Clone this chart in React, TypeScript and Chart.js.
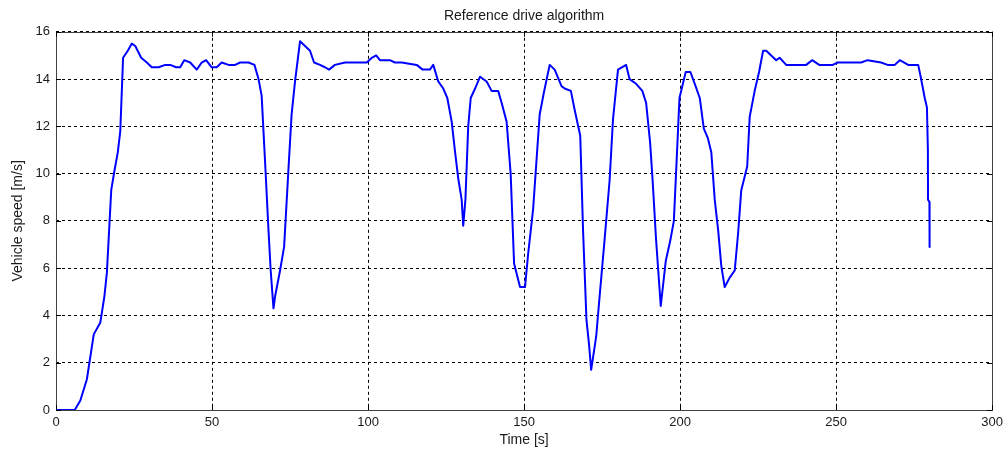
import React, { useEffect, useRef } from "react";
import { Chart, registerables } from "chart.js";

Chart.register(...registerables);

// Sample times [s]
const timeS: number[] = [
  0, 6, 7.8, 9.9, 12.1, 14.2, 15.5, 16.3, 17.1, 17.7, 18.7, 19.8, 20.6, 21.5, 23, 24.3, 25.4, 27.3, 29.1, 30.7,
  32.9, 35, 36.6, 38.5, 39.8, 41.1, 43, 45.1, 46.7, 48.1, 49.9, 51.5, 53.1, 55.3, 57.4, 59, 61.7, 63.6, 64.9, 65.9,
  67, 68.1, 68.8, 69.7, 70.2, 71.8, 73.1, 74.5, 75.5, 76.6, 78.2, 79.8, 81.4, 82.7, 84.6, 86.2, 87.5, 89.4, 92.6, 94.8,
  99.6, 101.2, 102.6, 103.8, 107, 108.6, 110.8, 115.6, 117.5, 119.8, 120.9, 122.5, 124.1, 125.4, 126.8, 127.9, 128.9, 130, 130.5, 131.2,
  132.1, 132.9, 134.3, 135.9, 138, 139.6, 141.7, 142.8, 144.4, 145.7, 146.8, 148.7, 150.3, 151.3, 152.9, 155, 156.3, 158.2, 159.8, 162,
  163, 165, 166.2, 168, 168.9, 170, 170.8, 171.5, 173.1, 174.2, 175.6, 177.4, 178.5, 180.1, 182.7, 183.8, 185.9, 187.9, 189.1, 190.4,
  191.2, 192.3, 193.8, 195.4, 196.9, 198, 198.8, 199.8, 201.8, 203.3, 204.7, 206.3, 207.6, 208.9, 210, 211.1, 212.2, 213.2, 214.3, 215.9,
  217.5, 218.6, 219.6, 221.5, 222.3, 223.9, 225.3, 226.6, 227.6, 229.2, 230.8, 231.9, 234, 240.4, 242.3, 244.6, 248.9, 250.5, 254.2, 258,
  260.1, 264.4, 266.5, 268.8, 270.4, 273.1, 276.3, 277.1, 278.4, 279.1, 279.4, 279.45, 279.9, 279.95,
];

// Vehicle speed [m/s] at each sample time
const speedMs: number[] = [
  0, 0, 0.4, 1.3, 3.2, 3.7, 4.8, 5.8, 7.8, 9.3, 10.1, 10.9, 11.8, 14.9, 15.2, 15.5, 15.4, 14.9, 14.7, 14.5,
  14.5, 14.6, 14.6, 14.5, 14.5, 14.8, 14.7, 14.4, 14.7, 14.8, 14.5, 14.5, 14.7, 14.6, 14.6, 14.7, 14.7, 14.6, 14.0, 13.3,
  10.5, 7.6, 5.9, 4.3, 4.8, 5.9, 6.9, 10.2, 12.5, 13.9, 15.6, 15.4, 15.2, 14.7, 14.6, 14.5, 14.4, 14.6, 14.7, 14.7,
  14.7, 14.9, 15.0, 14.8, 14.8, 14.7, 14.7, 14.6, 14.4, 14.4, 14.6, 13.9, 13.6, 13.2, 12.2, 10.9, 9.8, 8.9, 7.8, 8.9,
  12.0, 13.2, 13.6, 14.1, 13.9, 13.5, 13.5, 13.0, 12.2, 10.0, 6.2, 5.2, 5.2, 6.6, 8.5, 12.5, 13.4, 14.6, 14.4, 13.7,
  13.6, 13.5, 12.7, 11.6, 7.6, 3.8, 2.8, 1.7, 3.1, 4.8, 6.9, 9.7, 12.3, 14.4, 14.6, 14.0, 13.8, 13.5, 13.0, 11.3,
  9.7, 7.2, 4.4, 6.3, 7.2, 8.0, 10.3, 13.2, 14.3, 14.3, 13.8, 13.2, 11.9, 11.5, 10.9, 8.9, 7.6, 6.1, 5.2, 5.6,
  5.9, 7.5, 9.3, 10.3, 12.4, 13.5, 14.3, 15.2, 15.2, 15.0, 14.8, 14.9, 14.6, 14.6, 14.8, 14.6, 14.6, 14.7, 14.7, 14.7,
  14.8, 14.7, 14.6, 14.6, 14.8, 14.6, 14.6, 14.1, 13.2, 12.8, 11.0, 8.9, 8.8, 6.9,
];

const xTicks: number[] = [0, 50, 100, 150, 200, 250, 300];
const yTicks: number[] = [0, 2, 4, 6, 8, 10, 12, 14, 16];

const chartTitle = "Reference drive algorithm";
const xTitle = "Time [s]";
const yTitle = "Vehicle speed [m/s]";

const FONT = "'Liberation Sans', Arial, sans-serif";

// Centers the title over the plot area instead of the whole canvas
const titleOverPlot = {
  id: "titleOverPlot",
  afterLayout(chart: any) {
    const tb = chart.titleBlock;
    if (tb) {
      tb.left = chart.chartArea.left;
      tb.right = chart.chartArea.right;
    }
  },
};

// Draws the plot box frame and the small inward tick marks on all four sides
const boxFrame = {
  id: "boxFrame",
  afterDatasetsDraw(chart: any) {
    const { ctx, chartArea: a, scales } = chart;
    ctx.save();
    ctx.strokeStyle = "#404040";
    ctx.lineWidth = 1;
    ctx.strokeRect(Math.round(a.left) + 0.5, Math.round(a.top) + 0.5, Math.round(a.right - a.left), Math.round(a.bottom - a.top));
    ctx.strokeStyle = "#000";
    const tl = 5;
    for (const v of xTicks) {
      const x = Math.round(scales.x.getPixelForValue(v)) + 0.5;
      ctx.beginPath();
      ctx.moveTo(x, a.bottom);
      ctx.lineTo(x, a.bottom - tl);
      ctx.moveTo(x, a.top);
      ctx.lineTo(x, a.top + tl);
      ctx.stroke();
    }
    for (const v of yTicks) {
      const y = Math.round(scales.y.getPixelForValue(v)) + 0.5;
      ctx.beginPath();
      ctx.moveTo(a.left, y);
      ctx.lineTo(a.left + tl, y);
      ctx.moveTo(a.right, y);
      ctx.lineTo(a.right - tl, y);
      ctx.stroke();
    }
    ctx.restore();
  },
};

export default function App() {
  const canvasRef = useRef<HTMLCanvasElement | null>(null);

  useEffect(() => {
    if (!canvasRef.current) return;
    const points = timeS.map((t, i) => ({ x: t, y: speedMs[i] }));
    const chart = new Chart(canvasRef.current, {
      type: "line",
      data: {
        datasets: [
          {
            data: points,
            borderColor: "#0000ff",
            borderWidth: 2,
            borderJoinStyle: "round",
            pointRadius: 0,
            tension: 0,
            fill: false,
          },
        ],
      },
      options: {
        responsive: false,
        animation: false,
        layout: { padding: { top: 0, right: 15, left: 0, bottom: 0 } },
        plugins: {
          legend: { display: false },
          tooltip: { enabled: false },
          title: {
            display: true,
            text: chartTitle,
            color: "#1a1a1a",
            font: { family: FONT, size: 14, weight: "normal", lineHeight: 1.2 },
            padding: { top: 8, bottom: 7 },
          },
        },
        scales: {
          x: {
            type: "linear",
            min: 0,
            max: 300,
            afterBuildTicks: (s: any) => {
              s.ticks = xTicks.map((v) => ({ value: v }));
            },
            afterFit: (s: any) => {
              s.height = 42;
            },
            grid: {
              color: "#000",
              lineWidth: 1,
              drawTicks: false,
              tickLength: 0,
            },
            border: { display: false, dash: [3, 3] },
            ticks: {
              color: "#1a1a1a",
              font: { family: FONT, size: 13 },
              padding: 5,
              maxRotation: 0,
            },
            title: {
              display: true,
              text: xTitle,
              color: "#1a1a1a",
              font: { family: FONT, size: 14, lineHeight: 1.2 },
              padding: { top: 0, bottom: 3 },
            },
          },
          y: {
            type: "linear",
            min: 0,
            max: 16,
            afterBuildTicks: (s: any) => {
              s.ticks = yTicks.map((v) => ({ value: v }));
            },
            afterFit: (s: any) => {
              s.width = 56;
            },
            grid: {
              color: "#000",
              lineWidth: 1,
              drawTicks: false,
              tickLength: 0,
            },
            border: { display: false, dash: [3, 3] },
            ticks: {
              color: "#1a1a1a",
              font: { family: FONT, size: 13 },
              padding: 6,
            },
            title: {
              display: true,
              text: yTitle,
              color: "#1a1a1a",
              font: { family: FONT, size: 14, lineHeight: 1.2 },
              padding: { top: 10, bottom: 0 },
            },
          },
        },
      },
      plugins: [titleOverPlot, boxFrame],
    });
    return () => chart.destroy();
  }, []);

  return (
    <div style={{ position: "fixed", left: 0, top: 0, width: 1008, height: 452, background: "#fff" }}>
      <canvas ref={canvasRef} width={1008} height={452} />
    </div>
  );
}
